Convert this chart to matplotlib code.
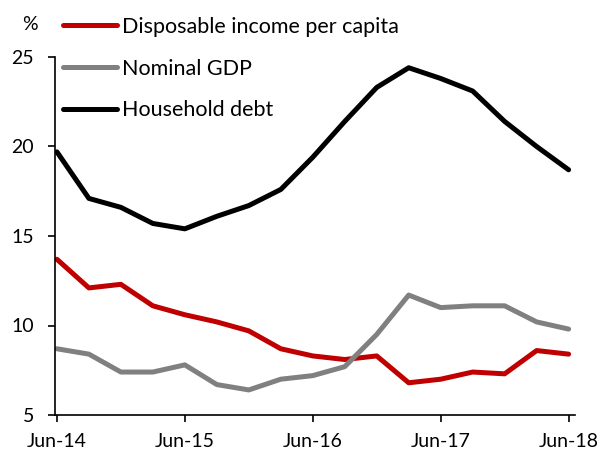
import numpy as np
import matplotlib.pyplot as plt

# quarterly observations, Jun-14 .. Jun-18
quarters = np.arange(17)
tick_pos = [0, 4, 8, 12, 16]
tick_labels = ["Jun-14", "Jun-15", "Jun-16", "Jun-17", "Jun-18"]

income = [13.7, 12.1, 12.3, 11.1, 10.6, 10.2, 9.7, 8.7, 8.3, 8.1, 8.3,
          6.8, 7.0, 7.4, 7.3, 8.6, 8.4]
gdp = [8.7, 8.4, 7.4, 7.4, 7.8, 6.7, 6.4, 7.0, 7.2, 7.7, 9.5,
       11.7, 11.0, 11.1, 11.1, 10.2, 9.8]
debt = [19.7, 17.1, 16.6, 15.7, 15.4, 16.1, 16.7, 17.6, 19.4, 21.4, 23.3,
        24.4, 23.8, 23.1, 21.4, 20.0, 18.7]

plt.rcParams["font.family"] = ["Lato", "DejaVu Sans"]

W, H = 606, 454
fig = plt.figure(figsize=(W / 100, H / 100), dpi=100)
ax = fig.add_axes([55 / W, (H - 415) / H, (575 - 55) / W, (415 - 57) / H])

lw = 3.6
ax.plot(quarters, income, color="#C00000", lw=lw, solid_capstyle="round",
        label="Disposable income per capita")
ax.plot(quarters, gdp, color="#808080", lw=lw, solid_capstyle="round",
        label="Nominal GDP")
ax.plot(quarters, debt, color="black", lw=lw, solid_capstyle="round",
        label="Household debt")

ax.set_xlim(-0.06, 16.2)
ax.set_ylim(5, 25)
ax.set_yticks([5, 10, 15, 20, 25])
ax.set_xticks(tick_pos)
ax.set_xticklabels(tick_labels)

for side in ["top", "right"]:
    ax.spines[side].set_visible(False)
for side in ["left", "bottom"]:
    ax.spines[side].set_linewidth(1.2)
ax.tick_params(axis="both", direction="out", length=5, width=1.2,
               labelsize=14, colors="black")
ax.tick_params(axis="y", pad=10)
ax.tick_params(axis="x", pad=8)

fig.text(22 / W, 1 - 25 / H, "%", fontsize=14, ha="left", va="center")

leg = ax.legend(loc="upper left", bbox_to_anchor=(63 / W, 1 - 17 / H),
                bbox_transform=fig.transFigure, frameon=False, fontsize=15.5,
                handlelength=2.5, handletextpad=0.24, labelspacing=1.0,
                borderpad=0, borderaxespad=0)

fig.savefig("out.png", dpi=100)
